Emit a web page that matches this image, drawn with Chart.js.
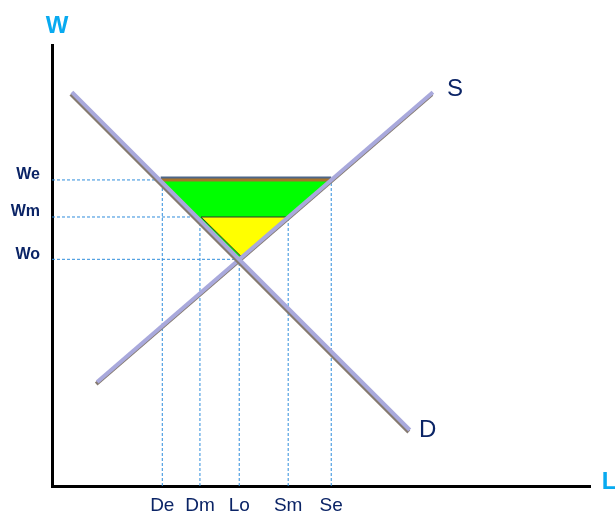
<!DOCTYPE html>
<html>
<head>
<meta charset="utf-8">
<script src="https://cdn.jsdelivr.net/npm/chart.js@4.4.1/dist/chart.umd.min.js"></script>
<style>
  html, body { margin: 0; padding: 0; background: #fff; }
  #wrap { width: 615px; height: 515px; position: relative; }
</style>
</head>
<body>
<div id="wrap"><canvas id="chart"></canvas></div>
<script>
// key wage / labour levels (arbitrary units)
const wageTicks = [6.94, 6.10, 5.14];
const wageLabels = ['We', 'Wm', 'Wo'];
const labourTicks = [2.05, 2.75, 3.48, 4.39, 5.19];
const labourLabels = ['De', 'Dm', 'Lo', 'Sm', 'Se'];

// supply and demand curves (end points)
const demandLine = [{ x: 0.37, y: 8.93 }, { x: 6.65, y: 1.27 }];
const supplyLine = [{ x: 0.84, y: 2.36 }, { x: 7.08, y: 8.93 }];

// surplus areas
const greenArea = [{ x: 2.02, y: 6.94 }, { x: 5.19, y: 6.94 }, { x: 3.48, y: 5.14 }, { x: 2.02, y: 6.94 }];
const yellowArea = [{ x: 2.77, y: 6.10 }, { x: 4.37, y: 6.10 }, { x: 3.52, y: 5.20 }, { x: 2.77, y: 6.10 }];

const [We, Wm, Wo] = wageTicks;
const [De, Dm, Lo, Sm, Se] = labourTicks;
const guideLines = [
  [{ x: 0, y: We }, { x: De, y: We }],
  [{ x: 0, y: Wm }, { x: Dm, y: Wm }],
  [{ x: 0, y: Wo }, { x: Lo, y: Wo }],
  [{ x: De, y: 0 }, { x: De, y: We }],
  [{ x: Dm, y: 0 }, { x: Dm, y: Wm }],
  [{ x: Lo, y: 0 }, { x: Lo, y: Wo }],
  [{ x: Sm, y: 0 }, { x: Sm, y: Wm }],
  [{ x: Se, y: 0 }, { x: Se, y: We }]
];

const navy = '#0b2466';
const sky = '#08aaf0';
const font = '"Liberation Sans", Arial, sans-serif';

const curveStyle = {
  showLine: true, borderColor: '#a9a9dc', borderWidth: 4, pointRadius: 0, fill: false, shadow: true
};

const datasets = [
  Object.assign({ label: 'D', data: demandLine }, curveStyle),
  Object.assign({ label: 'S', data: supplyLine }, curveStyle),
  {
    label: 'yellow', data: yellowArea, showLine: true, pointRadius: 0,
    borderColor: '#333', borderWidth: 1, backgroundColor: '#ffff00', fill: 'shape'
  },
  {
    label: 'edge', data: [greenArea[0], greenArea[1]], showLine: true, pointRadius: 0,
    borderColor: '#a8742a', borderWidth: 3, fill: false, edge: true
  },
  {
    label: 'green', data: greenArea, showLine: true, pointRadius: 0,
    borderWidth: 0, borderColor: 'rgba(0,0,0,0)', backgroundColor: '#00ff00', fill: 'shape'
  }
].concat(guideLines.map((g, i) => ({
  label: 'guide' + i, data: g, showLine: true, pointRadius: 0,
  borderColor: '#2f8ddc', borderWidth: 1, borderDash: [3, 2], fill: false
})));

const shadowPlugin = {
  id: 'shadow',
  beforeDatasetDraw(chart, args) {
    const ds = chart.data.datasets[args.index];
    const ctx = chart.ctx;
    ctx.save();
    if (ds.shadow) {
      ctx.shadowColor = '#857a70';
      ctx.shadowOffsetX = -1;
      ctx.shadowOffsetY = 2;
      ctx.shadowBlur = 0;
    } else if (ds.edge) {
      ctx.shadowColor = '#4d6688';
      ctx.shadowOffsetX = 0;
      ctx.shadowOffsetY = -2;
      ctx.shadowBlur = 0;
    }
  },
  afterDatasetDraw(chart) {
    chart.ctx.restore();
  }
};

const labelPlugin = {
  id: 'labels',
  afterDraw(chart) {
    const ctx = chart.ctx;
    const xs = chart.scales.x, ys = chart.scales.y;
    ctx.save();
    ctx.textAlign = 'center';
    ctx.textBaseline = 'middle';
    ctx.fillStyle = sky;
    ctx.font = 'bold 24px ' + font;
    ctx.fillText('W', xs.left + 5, chart.chartArea.top - 19);
    ctx.fillText('L', xs.right + 19, ys.bottom - 4);
    ctx.fillStyle = navy;
    ctx.font = '24px ' + font;
    ctx.fillText('S', xs.getPixelForValue(supplyLine[1].x) + 22, ys.getPixelForValue(supplyLine[1].y) - 3);
    ctx.fillText('D', xs.getPixelForValue(demandLine[1].x) + 18, ys.getPixelForValue(demandLine[1].y));
    ctx.restore();
  }
};

new Chart(document.getElementById('chart'), {
  type: 'scatter',
  data: { datasets },
  options: {
    responsive: true,
    maintainAspectRatio: false,
    animation: false,
    layout: { padding: { top: 45, right: 25, left: 0, bottom: 0 } },
    plugins: { legend: { display: false }, tooltip: { enabled: false } },
    elements: { line: { tension: 0 } },
    scales: {
      x: {
        type: 'linear', min: 0, max: 10,
        afterBuildTicks: s => { s.ticks = labourTicks.map(v => ({ value: v })); },
        afterFit: s => { s.height = 29; },
        grid: { color: 'rgba(0,0,0,0)', drawTicks: false },
        border: { display: true, color: '#000', width: 3 },
        ticks: {
          padding: 8, color: navy, maxRotation: 0, autoSkip: false,
          font: { family: font, size: 19 },
          callback: (v, i) => labourLabels[i]
        }
      },
      y: {
        type: 'linear', min: 0, max: 10,
        afterBuildTicks: s => { s.ticks = wageTicks.map(v => ({ value: v })); },
        afterFit: s => { s.width = 52; },
        grid: { color: 'rgba(0,0,0,0)', drawTicks: false },
        border: { display: true, color: '#000', width: 3 },
        ticks: {
          padding: 12, color: navy, autoSkip: false, labelOffset: -5,
          font: { family: font, size: 16, weight: 'bold' },
          callback: (v, i) => wageLabels[i]
        }
      }
    }
  },
  plugins: [shadowPlugin, labelPlugin]
});
</script>
</body>
</html>
